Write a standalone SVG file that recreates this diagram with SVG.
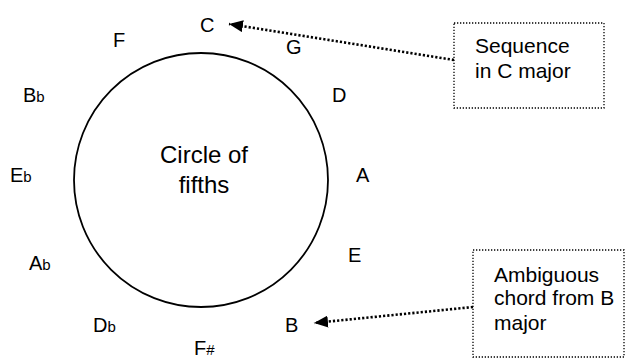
<svg xmlns="http://www.w3.org/2000/svg" width="628" height="358" viewBox="0 0 628 358">
<defs>
<style>
text{font-family:"Liberation Sans",Arial,sans-serif;fill:#000}
.n{font-size:20px}
.s{font-size:15px}
.t{font-size:21px}
.c{font-size:24px;text-anchor:middle}
.box{fill:#fff;stroke:#000;stroke-width:1.3;stroke-dasharray:1.3 1.7}
.con{fill:none;stroke:#000;stroke-width:2.6;stroke-dasharray:2.2 2}
</style>
<marker id="ah" markerWidth="14" markerHeight="12" refX="14" refY="6" orient="auto" markerUnits="userSpaceOnUse" viewBox="0 0 14 12">
<path d="M0,0 L14,6 L0,12 Z" fill="#000"/>
</marker>
</defs>
<rect width="628" height="358" fill="#fff"/>
<g id="circle">
<ellipse cx="201" cy="180" rx="127" ry="127" fill="none" stroke="#000" stroke-width="1.8"/>
<text class="c" x="204" y="163">Circle of</text>
<text class="c" x="204" y="193">fifths</text>
</g>
<g id="notes">
<g id="note-C"><text class="n" x="200" y="32">C</text></g>
<g id="note-G"><text class="n" x="286" y="54">G</text></g>
<g id="note-D"><text class="n" x="332" y="102">D</text></g>
<g id="note-A"><text class="n" x="356" y="182">A</text></g>
<g id="note-E"><text class="n" x="348" y="262">E</text></g>
<g id="note-B"><text class="n" x="285" y="332">B</text></g>
<g id="note-Fs"><text class="n" x="194" y="355">F<tspan class="s">#</tspan></text></g>
<g id="note-Db"><text class="n" x="93" y="332">D<tspan class="s">b</tspan></text></g>
<g id="note-Ab"><text class="n" x="29" y="270">A<tspan class="s">b</tspan></text></g>
<g id="note-Eb"><text class="n" x="10" y="182">E<tspan class="s">b</tspan></text></g>
<g id="note-Bb"><text class="n" x="23" y="102">B<tspan class="s">b</tspan></text></g>
<g id="note-F"><text class="n" x="113" y="47">F</text></g>
</g>
<g id="box-seq">
<rect class="box" x="454" y="23" width="150" height="85"/>
<text class="t" x="475" y="53">Sequence</text>
<text class="t" x="475" y="78">in C major</text>
</g>
<g id="box-amb">
<rect class="box" x="473" y="250" width="151" height="107"/>
<text class="t" x="494" y="282">Ambiguous</text>
<text class="t" x="494" y="305">chord from B</text>
<text class="t" x="494" y="330">major</text>
</g>
<g id="connectors">
<path class="con" d="M454,60 L229,24" marker-end="url(#ah)"/>
<path class="con" d="M473,307 L314,323" marker-end="url(#ah)"/>
</g>
</svg>
